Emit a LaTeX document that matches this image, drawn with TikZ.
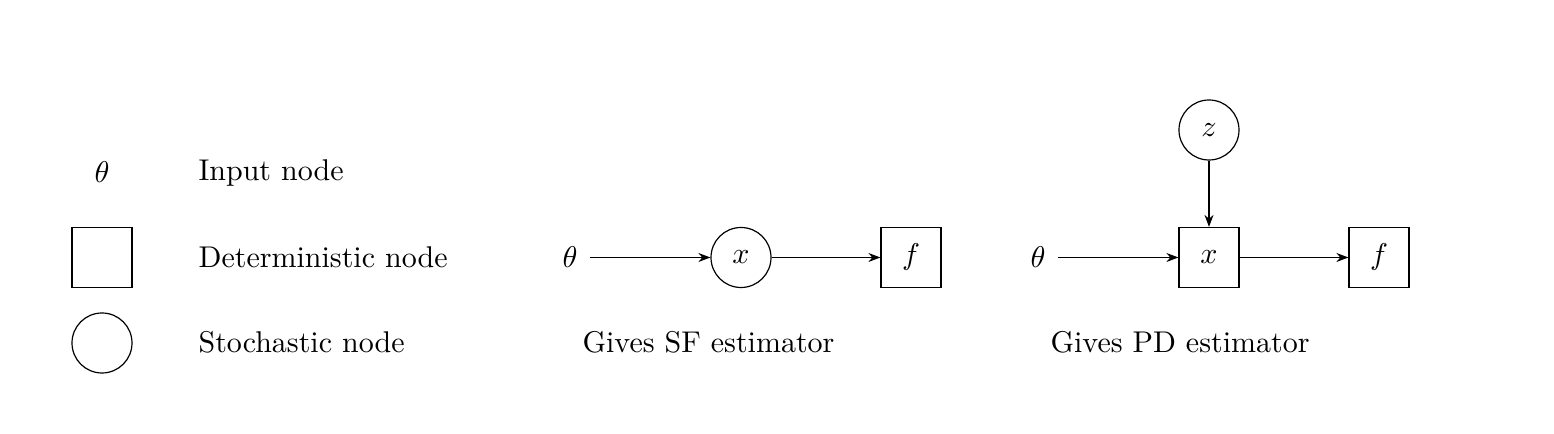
\documentclass[tikz,border=0pt]{standalone}
\usetikzlibrary{arrows.meta}
\begin{document}
\begin{tikzpicture}[x=0.33333pt,y=-0.33333pt,
  det/.style={draw,rectangle,minimum size=20pt,inner sep=0pt,line width=0.4pt},
  sto/.style={draw,circle,minimum size=20pt,inner sep=0pt,line width=0.4pt},
  inp/.style={inner sep=0pt},
  lbl/.style={anchor=base west,inner sep=0pt},
  arr/.style={-{Stealth[length=4pt,width=3pt]},line width=0.4pt},
  fromin/.style={shorten <=3.9pt}]
\useasboundingbox (0,0) rectangle (1554,434);
% legend
\node[inp] (lt) at (102,172) {$\theta$};
\node[det] (ld) at (102,257.5) {};
\node[sto] (ls) at (102,343) {};
\node[lbl] (lt1) at (198,181) {Input node};
\node[lbl] (ld1) at (198,268) {Deterministic node};
\node[lbl] (ls1) at (198,353) {Stochastic node};
% SF
\node[inp] (t1) at (570,257.5) {$\theta$};
\node[sto] (x1) at (741,257.5) {$x$};
\node[det] (f1) at (911,257.5) {$f$};
\draw[arr,fromin] (t1) -- (x1);
\draw[arr] (x1) -- (f1);
\node[lbl] (c1) at (582,353) {Gives SF estimator};
% PD
\node[inp] (t2) at (1038,257.5) {$\theta$};
\node[det] (x2) at (1209,257.5) {$x$};
\node[det] (f2) at (1379,257.5) {$f$};
\node[sto] (z2) at (1209,130) {$z$};
\draw[arr,fromin] (t2) -- (x2);
\draw[arr] (x2) -- (f2);
\draw[arr] (z2) -- (x2);
\node[lbl] (c2) at (1050,353) {Gives PD estimator};
\end{tikzpicture}
\end{document}
